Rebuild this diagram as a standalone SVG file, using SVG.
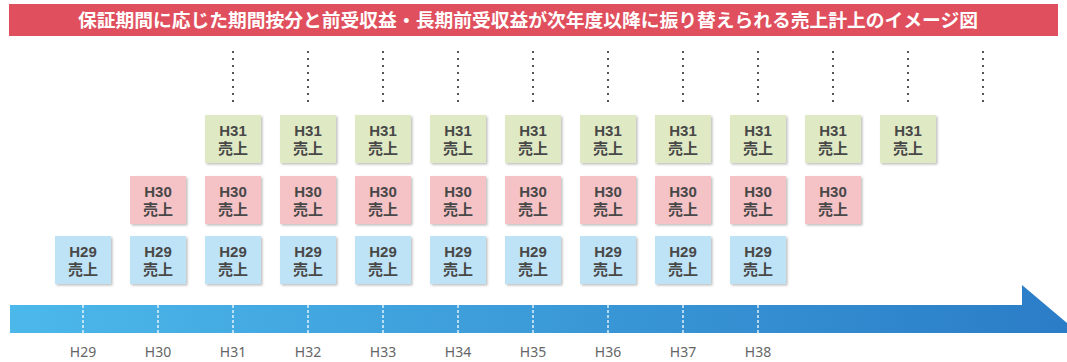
<svg xmlns="http://www.w3.org/2000/svg" width="1067" height="362" viewBox="0 0 1067 362">
<defs>
<linearGradient id="ag" x1="0" y1="0" x2="1" y2="0">
<stop offset="0" stop-color="#4cb8ea"/>
<stop offset="1" stop-color="#2a7cc6"/>
</linearGradient>
<filter id="sh" x="-10%" y="-10%" width="130%" height="130%">
<feDropShadow dx="1.5" dy="1.5" stdDeviation="1" flood-color="#000" flood-opacity="0.25"/>
</filter>
</defs>
<style>
.t{font-family:"Noto Sans CJK JP","Noto Sans",sans-serif;}
.bx{filter:url(#sh);}
.g{fill:#dfeac4;}
.p{fill:#f5c2c6;}
.b{fill:#bfe3f6;}
.bt{font-family:"Liberation Sans","Noto Sans CJK JP",sans-serif;font-size:15px;fill:#484848;text-anchor:middle;font-weight:bold;}
.dot{stroke:#555;stroke-width:2;stroke-dasharray:2 5;}
.tick{stroke:#fff;stroke-width:1.5;stroke-dasharray:3 2;opacity:0.85;}
.lbl{font-family:"Noto Sans","DejaVu Sans",sans-serif;font-size:14px;fill:#666;text-anchor:middle;}
</style>
<rect width="1067" height="362" fill="#fff"/>
<g id="title">
<rect x="9" y="4" width="1049" height="32" fill="#e04f5d"/>
<text class="t" x="528" y="27" font-size="18.5" font-weight="bold" fill="#fff" text-anchor="middle" textLength="900" lengthAdjust="spacingAndGlyphs">保証期間に応じた期間按分と前受収益・長期前受収益が次年度以降に振り替えられる売上計上のイメージ図</text>
</g>
<g id="connectors">
<line class="dot" x1="233" y1="51" x2="233" y2="104"/>
<line class="dot" x1="308" y1="51" x2="308" y2="104"/>
<line class="dot" x1="383" y1="51" x2="383" y2="104"/>
<line class="dot" x1="458" y1="51" x2="458" y2="104"/>
<line class="dot" x1="533" y1="51" x2="533" y2="104"/>
<line class="dot" x1="608" y1="51" x2="608" y2="104"/>
<line class="dot" x1="683" y1="51" x2="683" y2="104"/>
<line class="dot" x1="758" y1="51" x2="758" y2="104"/>
<line class="dot" x1="833" y1="51" x2="833" y2="104"/>
<line class="dot" x1="908" y1="51" x2="908" y2="104"/>
<line class="dot" x1="983" y1="51" x2="983" y2="104"/>
</g>
<g id="timeline">
<polygon points="10,305 1022,305 1022,285 1079,333 10,333" fill="url(#ag)"/>
<line class="tick" x1="83" y1="305" x2="83" y2="333"/>
<line class="tick" x1="158" y1="305" x2="158" y2="333"/>
<line class="tick" x1="233" y1="305" x2="233" y2="333"/>
<line class="tick" x1="308" y1="305" x2="308" y2="333"/>
<line class="tick" x1="383" y1="305" x2="383" y2="333"/>
<line class="tick" x1="458" y1="305" x2="458" y2="333"/>
<line class="tick" x1="533" y1="305" x2="533" y2="333"/>
<line class="tick" x1="608" y1="305" x2="608" y2="333"/>
<line class="tick" x1="683" y1="305" x2="683" y2="333"/>
<line class="tick" x1="758" y1="305" x2="758" y2="333"/>
<text class="lbl" x="83" y="357">H29</text>
<text class="lbl" x="158" y="357">H30</text>
<text class="lbl" x="233" y="357">H31</text>
<text class="lbl" x="308" y="357">H32</text>
<text class="lbl" x="383" y="357">H33</text>
<text class="lbl" x="458" y="357">H34</text>
<text class="lbl" x="533" y="357">H35</text>
<text class="lbl" x="608" y="357">H36</text>
<text class="lbl" x="683" y="357">H37</text>
<text class="lbl" x="758" y="357">H38</text>
</g>
<g id="h31-row">
<g id="h31-1"><rect class="bx g" x="205" y="115" width="56" height="48"/><text class="bt" x="233" y="136">H31</text><text class="bt" x="233" y="154">売上</text></g>
<g id="h31-2"><rect class="bx g" x="280" y="115" width="56" height="48"/><text class="bt" x="308" y="136">H31</text><text class="bt" x="308" y="154">売上</text></g>
<g id="h31-3"><rect class="bx g" x="355" y="115" width="56" height="48"/><text class="bt" x="383" y="136">H31</text><text class="bt" x="383" y="154">売上</text></g>
<g id="h31-4"><rect class="bx g" x="430" y="115" width="56" height="48"/><text class="bt" x="458" y="136">H31</text><text class="bt" x="458" y="154">売上</text></g>
<g id="h31-5"><rect class="bx g" x="505" y="115" width="56" height="48"/><text class="bt" x="533" y="136">H31</text><text class="bt" x="533" y="154">売上</text></g>
<g id="h31-6"><rect class="bx g" x="580" y="115" width="56" height="48"/><text class="bt" x="608" y="136">H31</text><text class="bt" x="608" y="154">売上</text></g>
<g id="h31-7"><rect class="bx g" x="655" y="115" width="56" height="48"/><text class="bt" x="683" y="136">H31</text><text class="bt" x="683" y="154">売上</text></g>
<g id="h31-8"><rect class="bx g" x="730" y="115" width="56" height="48"/><text class="bt" x="758" y="136">H31</text><text class="bt" x="758" y="154">売上</text></g>
<g id="h31-9"><rect class="bx g" x="805" y="115" width="56" height="48"/><text class="bt" x="833" y="136">H31</text><text class="bt" x="833" y="154">売上</text></g>
<g id="h31-10"><rect class="bx g" x="880" y="115" width="56" height="48"/><text class="bt" x="908" y="136">H31</text><text class="bt" x="908" y="154">売上</text></g>
</g>
<g id="h30-row">
<g id="h30-1"><rect class="bx p" x="130" y="176" width="56" height="48"/><text class="bt" x="158" y="197">H30</text><text class="bt" x="158" y="215">売上</text></g>
<g id="h30-2"><rect class="bx p" x="205" y="176" width="56" height="48"/><text class="bt" x="233" y="197">H30</text><text class="bt" x="233" y="215">売上</text></g>
<g id="h30-3"><rect class="bx p" x="280" y="176" width="56" height="48"/><text class="bt" x="308" y="197">H30</text><text class="bt" x="308" y="215">売上</text></g>
<g id="h30-4"><rect class="bx p" x="355" y="176" width="56" height="48"/><text class="bt" x="383" y="197">H30</text><text class="bt" x="383" y="215">売上</text></g>
<g id="h30-5"><rect class="bx p" x="430" y="176" width="56" height="48"/><text class="bt" x="458" y="197">H30</text><text class="bt" x="458" y="215">売上</text></g>
<g id="h30-6"><rect class="bx p" x="505" y="176" width="56" height="48"/><text class="bt" x="533" y="197">H30</text><text class="bt" x="533" y="215">売上</text></g>
<g id="h30-7"><rect class="bx p" x="580" y="176" width="56" height="48"/><text class="bt" x="608" y="197">H30</text><text class="bt" x="608" y="215">売上</text></g>
<g id="h30-8"><rect class="bx p" x="655" y="176" width="56" height="48"/><text class="bt" x="683" y="197">H30</text><text class="bt" x="683" y="215">売上</text></g>
<g id="h30-9"><rect class="bx p" x="730" y="176" width="56" height="48"/><text class="bt" x="758" y="197">H30</text><text class="bt" x="758" y="215">売上</text></g>
<g id="h30-10"><rect class="bx p" x="805" y="176" width="56" height="48"/><text class="bt" x="833" y="197">H30</text><text class="bt" x="833" y="215">売上</text></g>
</g>
<g id="h29-row">
<g id="h29-1"><rect class="bx b" x="55" y="236" width="56" height="48"/><text class="bt" x="83" y="257">H29</text><text class="bt" x="83" y="275">売上</text></g>
<g id="h29-2"><rect class="bx b" x="130" y="236" width="56" height="48"/><text class="bt" x="158" y="257">H29</text><text class="bt" x="158" y="275">売上</text></g>
<g id="h29-3"><rect class="bx b" x="205" y="236" width="56" height="48"/><text class="bt" x="233" y="257">H29</text><text class="bt" x="233" y="275">売上</text></g>
<g id="h29-4"><rect class="bx b" x="280" y="236" width="56" height="48"/><text class="bt" x="308" y="257">H29</text><text class="bt" x="308" y="275">売上</text></g>
<g id="h29-5"><rect class="bx b" x="355" y="236" width="56" height="48"/><text class="bt" x="383" y="257">H29</text><text class="bt" x="383" y="275">売上</text></g>
<g id="h29-6"><rect class="bx b" x="430" y="236" width="56" height="48"/><text class="bt" x="458" y="257">H29</text><text class="bt" x="458" y="275">売上</text></g>
<g id="h29-7"><rect class="bx b" x="505" y="236" width="56" height="48"/><text class="bt" x="533" y="257">H29</text><text class="bt" x="533" y="275">売上</text></g>
<g id="h29-8"><rect class="bx b" x="580" y="236" width="56" height="48"/><text class="bt" x="608" y="257">H29</text><text class="bt" x="608" y="275">売上</text></g>
<g id="h29-9"><rect class="bx b" x="655" y="236" width="56" height="48"/><text class="bt" x="683" y="257">H29</text><text class="bt" x="683" y="275">売上</text></g>
<g id="h29-10"><rect class="bx b" x="730" y="236" width="56" height="48"/><text class="bt" x="758" y="257">H29</text><text class="bt" x="758" y="275">売上</text></g>
</g>
</svg>
